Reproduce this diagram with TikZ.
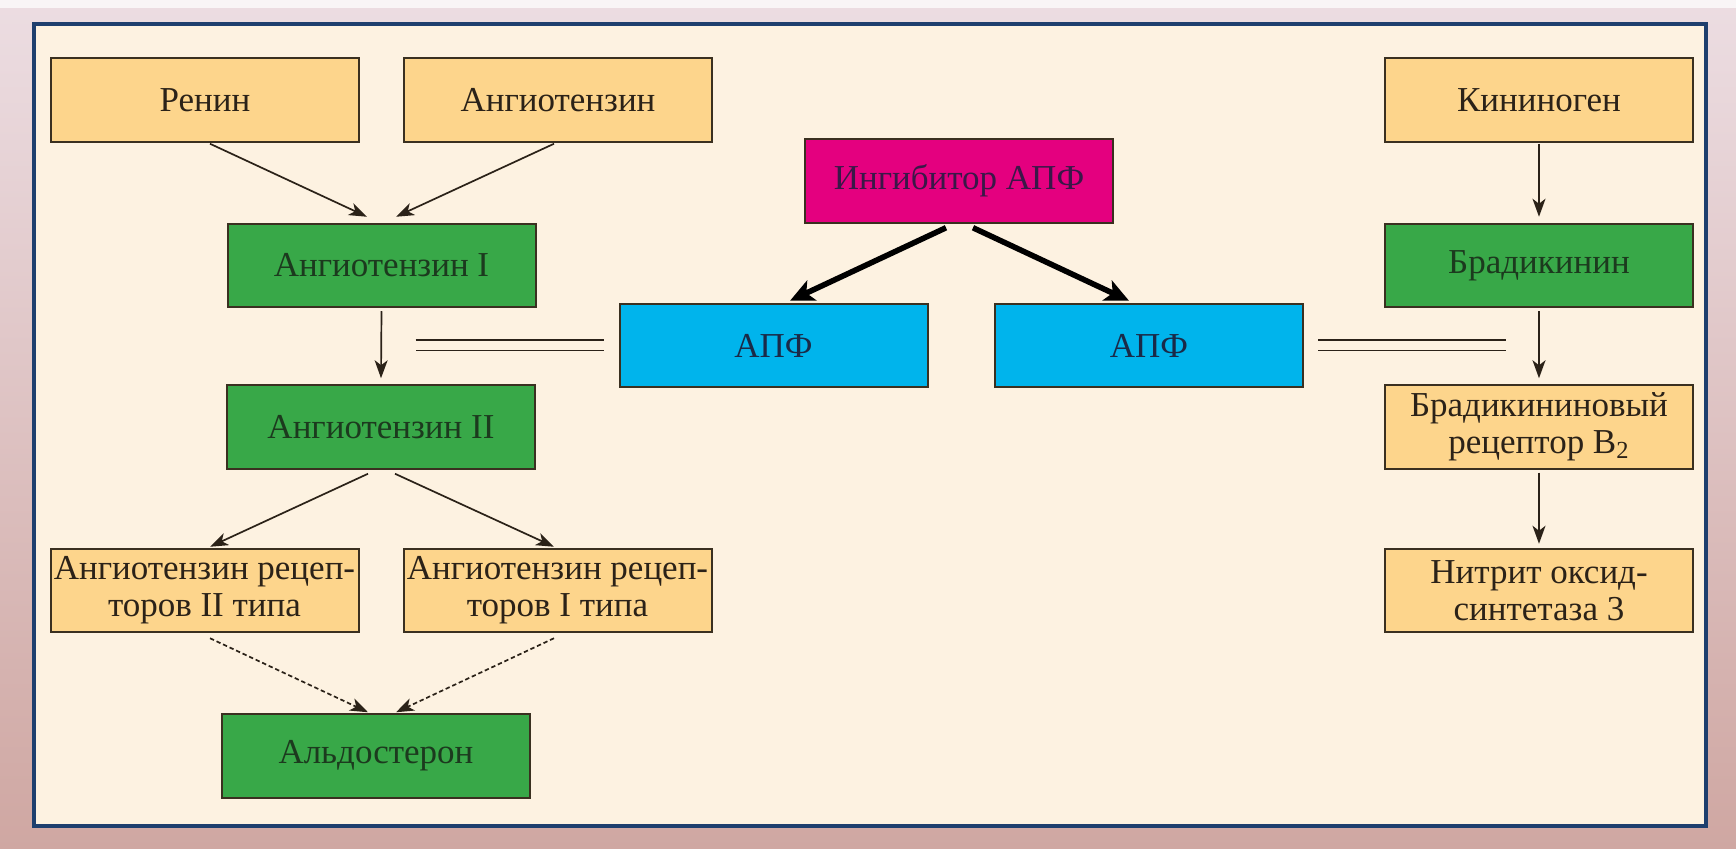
\documentclass[tikz,border=0pt]{standalone}
\usepackage{fontspec}
\setmainfont{Liberation Serif}
\usetikzlibrary{arrows.meta,calc}
\definecolor{panel}{HTML}{FDF2E1}
\definecolor{frameblue}{HTML}{1E3F6E}
\definecolor{creamfill}{HTML}{FDD58C}
\definecolor{greenfill}{HTML}{38A848}
\definecolor{magfill}{HTML}{E4007F}
\definecolor{cyanfill}{HTML}{00B4EC}
\definecolor{boxline}{HTML}{3A3020}
\definecolor{txtdark}{HTML}{2B2218}
\definecolor{txtgreen}{HTML}{1C3A1E}
\definecolor{txtmag}{HTML}{3A1848}
\definecolor{txtcyan}{HTML}{1A2A48}
\definecolor{bgtop}{HTML}{ECDDE2}
\definecolor{bgbot}{HTML}{CFA7A2}
\tikzset{
  basebox/.style={draw=boxline, line width=1pt, minimum width=154pt, minimum height=41.75pt,
    inner sep=0pt, align=center, font=\fontsize{17.5}{18.5}\selectfont},
  creambox/.style={basebox, fill=creamfill, text=txtdark},
  greenbox/.style={basebox, fill=greenfill, text=txtgreen},
  magbox/.style={basebox, fill=magfill, text=txtmag},
  cyanbox/.style={basebox, fill=cyanfill, text=txtcyan},
  thinarrow/.style={draw=txtdark, line width=0.85pt, -{Stealth[length=9pt,width=6.5pt,inset=2.5pt]}},
  dasharrow/.style={thinarrow, dash pattern=on 2.2pt off 1.4pt},
  thickarrow/.style={draw=black, line width=2.8pt, -{Stealth[length=12pt,width=11pt,inset=3pt]}},
  doubleline/.style={draw=txtdark, line width=0.9pt, double=panel, double distance=4.2pt}
}
\begin{document}
\begin{tikzpicture}[x=0.5pt,y=-0.5pt]
\useasboundingbox (0,0) rectangle (1736,849);
\shade[top color=bgtop, bottom color=bgbot] (0,0) rectangle (1736,849);
\fill[white!70!bgtop] (0,0) rectangle (1736,8);
\draw[frameblue, line width=2pt, fill=panel] (34,24) rectangle (1706,826);

\node[creambox] (renin) at (205,100) {Ренин};
\node[creambox] (angio) at (558,100) {Ангиотензин};
\node[greenbox] (ang1) at (381.5,265.5) {Ангиотензин I};
\node[greenbox] (ang2) at (381,427) {Ангиотензин II};
\node[creambox] (at2) at (204.5,590.5) {Ангиотензин рецеп-\\торов II типа};
\node[creambox] (at1) at (557.5,590.5) {Ангиотензин рецеп-\\торов I типа};
\node[greenbox] (aldo) at (376,756) {Альдостерон};
\node[magbox] (inh) at (959,181) {Ингибитор АПФ};
\node[cyanbox] (apfL) at (773.5,345.5) {АПФ};
\node[cyanbox] (apfR) at (1149,345.5) {АПФ};
\node[creambox] (kin) at (1539,100) {Кининоген};
\node[greenbox] (brad) at (1539,265.5) {Брадикинин};
\node[creambox] (b2) at (1539,427) {Брадикининовый\\рецептор В\textsubscript{2}};
\node[creambox] (nos) at (1539,590.5) {Нитрит оксид-\\синтетаза 3};

\draw[thinarrow] ($(renin.south)+(5,1)$) -- ($(ang1.north)+(-14.5,-6)$);
\draw[thinarrow] ($(angio.south)+(-4,1)$) -- ($(ang1.north)+(14.5,-6)$);
\draw[thinarrow] ($(ang1.south)+(0,3)$) -- ($(ang2.north)+(0,-6)$);
\draw[thinarrow] ($(ang2.south)+(-13,4)$) -- ($(at2.north)+(5.5,-1)$);
\draw[thinarrow] ($(ang2.south)+(14,4)$) -- ($(at1.north)+(-3.5,-1)$);
\draw[dasharrow] ($(at2.south)+(5.5,5)$) -- ($(aldo.north)+(-8,-1)$);
\draw[dasharrow] ($(at1.south)+(-3.5,5)$) -- ($(aldo.north)+(20,-1)$);
\draw[thickarrow] ($(inh.south)+(-13,4)$) -- ($(apfL.north)+(16.5,-2)$);
\draw[thickarrow] ($(inh.south)+(14,4)$) -- ($(apfR.north)+(-20,-2)$);
\draw[thinarrow] ($(kin.south)+(0,1)$) -- ($(brad.north)+(0,-6)$);
\draw[thinarrow] ($(brad.south)+(0,3)$) -- ($(b2.north)+(0,-6)$);
\draw[thinarrow] ($(b2.south)+(0,3)$) -- ($(nos.north)+(0,-4)$);

\coordinate (dlLa) at ($(apfL.west)+(-203,0)$);
\coordinate (dlLb) at ($(apfL.west)+(-15,0)$);
\coordinate (dlRa) at ($(apfR.east)+(14,0)$);
\coordinate (dlRb) at ($(apfR.east)+(202,0)$);
\draw[doubleline] (dlLa) -- (dlLb);
\draw[doubleline] (dlRa) -- (dlRb);
\end{tikzpicture}
\end{document}
